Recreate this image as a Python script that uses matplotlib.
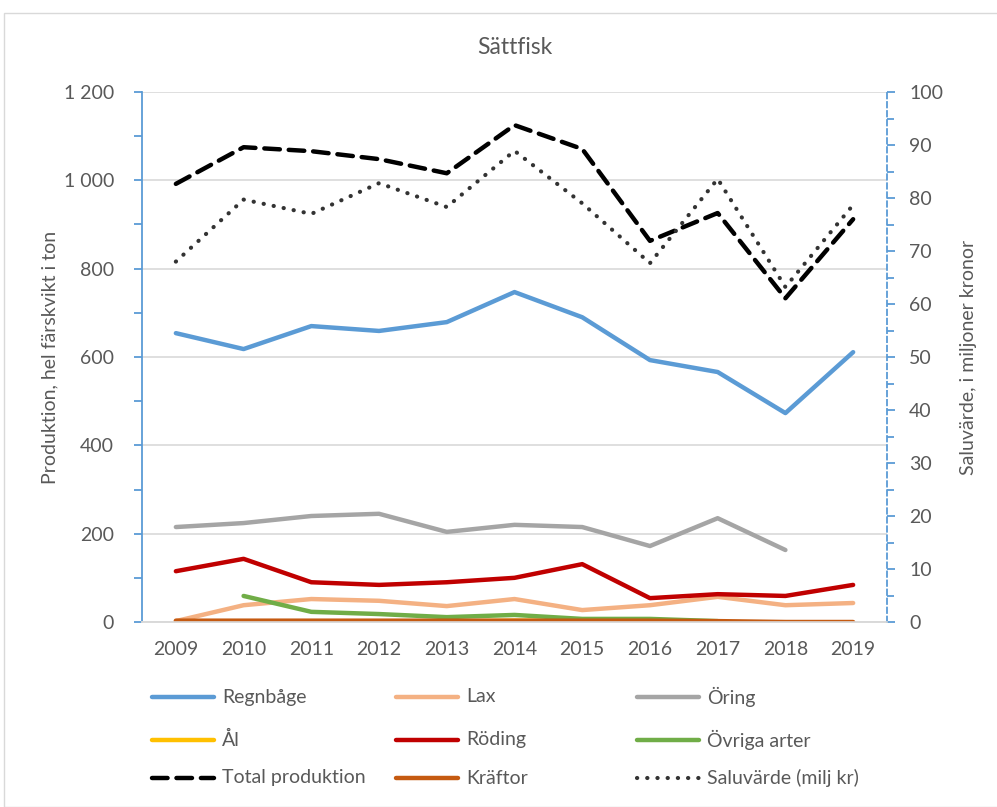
import matplotlib
matplotlib.use("Agg")
import matplotlib.pyplot as plt
from matplotlib.lines import Line2D
from matplotlib.patches import Rectangle
from matplotlib.ticker import FuncFormatter, MultipleLocator
import numpy as np

plt.rcParams['font.family'] = ['Lato', 'DejaVu Sans']

years = ['2009', '2010', '2011', '2012', '2013', '2014', '2015', '2016', '2017', '2018', '2019']
regnbage = [654, 618, 670, 659, 679, 747, 690, 593, 566, 473, 611]
lax = [2, 38, 52, 48, 36, 52, 27, 38, 57, 38, 43]
oring = [215, 224, 240, 245, 204, 220, 215, 172, 235, 163, np.nan]
al = [0, 0, 0, 0, 1, 3, 2, 1, 0, np.nan, np.nan]
roding = [115, 143, 90, 84, 90, 100, 131, 54, 63, 59, 84]
ovriga = [np.nan, 59, 23, 18, 11, 16, 7, 7, 2, np.nan, np.nan]
total = [992, 1075, 1066, 1048, 1016, 1125, 1071, 863, 926, 733, 912]
kraftor = [3, 3, 3, 3, 3, 3, 3, 3, 2, 0, 0]
saluvarde = [68, 79.7, 77, 82.8, 78.3, 88.9, 79, 67.7, 83.6, 63.2, 78.7]

TXT = '#595959'
W, H = 997, 807
fig = plt.figure(figsize=(W / 100, H / 100), dpi=100)
fig.patch.set_facecolor('white')
fig.patches.append(Rectangle((4 / W, 0), 1.2, 1 - 13 / H, transform=fig.transFigure,
                             fill=False, edgecolor='#D9D9D9', linewidth=1.0))

ax = fig.add_axes([142 / W, (H - 622) / H, (887 - 142) / W, (622 - 92) / H])
ax2 = ax.twinx()

x = np.arange(len(years))
lw = 3.2
solid = dict(lw=lw, solid_capstyle='round')
styles = {
    'Regnbåge': dict(color='#5B9BD5', **solid),
    'Lax': dict(color='#F4B183', **solid),
    'Öring': dict(color='#A5A5A5', **solid),
    'Ål': dict(color='#FFC000', **solid),
    'Röding': dict(color='#C00000', **solid),
    'Övriga arter': dict(color='#70AD47', **solid),
    'Total produktion': dict(color='black', lw=lw, dashes=(3.5, 2.0), dash_capstyle='round'),
    'Kräftor': dict(color='#C55A11', **solid),
    'Saluvärde (milj kr)': dict(color='#333333', lw=3.0, linestyle=(0, (0.05, 2.4)),
                                dash_capstyle='round'),
}

ax.plot(x, regnbage, zorder=3, **styles['Regnbåge'])
ax.plot(x, lax, zorder=3, **styles['Lax'])
ax.plot(x, oring, zorder=3, **styles['Öring'])
ax.plot(x, al, zorder=3, **styles['Ål'])
ax.plot(x, roding, zorder=3, **styles['Röding'])
ax.plot(x, ovriga, zorder=3, **styles['Övriga arter'])
ax.plot(x, total, zorder=4, **styles['Total produktion'])
ax.plot(x, kraftor, zorder=3, **styles['Kräftor'])
ax2.plot(x, saluvarde, zorder=4, **styles['Saluvärde (milj kr)'])

ax.set_xlim(-0.5, len(years) - 0.5)
ax.set_ylim(0, 1200)
ax2.set_ylim(0, 100)
ax.set_xticks(x)
ax.set_xticklabels(years)
ax.yaxis.set_major_locator(MultipleLocator(200))
ax.yaxis.set_minor_locator(MultipleLocator(100))
ax2.yaxis.set_major_locator(MultipleLocator(10))
ax2.yaxis.set_minor_locator(MultipleLocator(5))
ax.yaxis.set_major_formatter(FuncFormatter(lambda v, p: f"{int(v):,}".replace(',', ' ')))

ax.grid(axis='y', color='#D9D9D9', lw=1.2, zorder=0)
ax.set_axisbelow(True)

blue = '#5B9BD5'
FS = 14
for a in (ax, ax2):
    a.spines['top'].set_visible(False)
    a.spines['bottom'].set_color('#D9D9D9')
    a.spines['bottom'].set_linewidth(1.2)
    a.tick_params(axis='x', length=0, pad=14, labelsize=FS, labelcolor=TXT)
ax.spines['left'].set_color(blue)
ax.spines['left'].set_linewidth(1.3)
ax.spines['right'].set_visible(False)
ax2.spines['left'].set_visible(False)
ax2.spines['right'].set_color(blue)
ax2.spines['right'].set_linewidth(1.3)
ax2.spines['right'].set_linestyle((0, (3, 2)))

ax.tick_params(axis='y', which='major', length=6, width=1.3, color=blue, labelsize=FS,
               labelcolor=TXT, pad=14)
ax.tick_params(axis='y', which='minor', length=6, width=1.3, color=blue)
ax2.tick_params(axis='y', which='major', length=6, width=1.3, color=blue, labelsize=FS,
                labelcolor=TXT, pad=10)
ax2.tick_params(axis='y', which='minor', length=5, width=1.3, color=blue)

ax.set_ylabel('Produktion, hel färskvikt i ton', fontsize=FS, color=TXT, labelpad=4)
ax2.set_ylabel('Saluvärde, i miljoner kronor', fontsize=FS, color=TXT, labelpad=12)

fig.text((142 + 887) / 2 / W, 1 - 47 / H, 'Sättfisk', ha='center', va='center',
         fontsize=16.5, color=TXT)

# legend, laid out as in the reference (3 columns x 3 rows, row-wise)
order = ['Regnbåge', 'Lax', 'Öring', 'Ål', 'Röding', 'Övriga arter',
         'Total produktion', 'Kräftor', 'Saluvärde (milj kr)']
col_x = [152, 396, 637]
row_y = [697, 740, 778]
hlen = 62
for i, name in enumerate(order):
    cx = col_x[i % 3]
    ry = row_y[i // 3]
    yf = 1 - ry / H
    fig.add_artist(Line2D([cx / W, (cx + hlen) / W], [yf, yf], transform=fig.transFigure,
                          **styles[name]))
    fig.text((cx + hlen + 8) / W, yf, name, ha='left', va='center', fontsize=FS, color=TXT)

fig.savefig('out.png', dpi=100, facecolor='white')
